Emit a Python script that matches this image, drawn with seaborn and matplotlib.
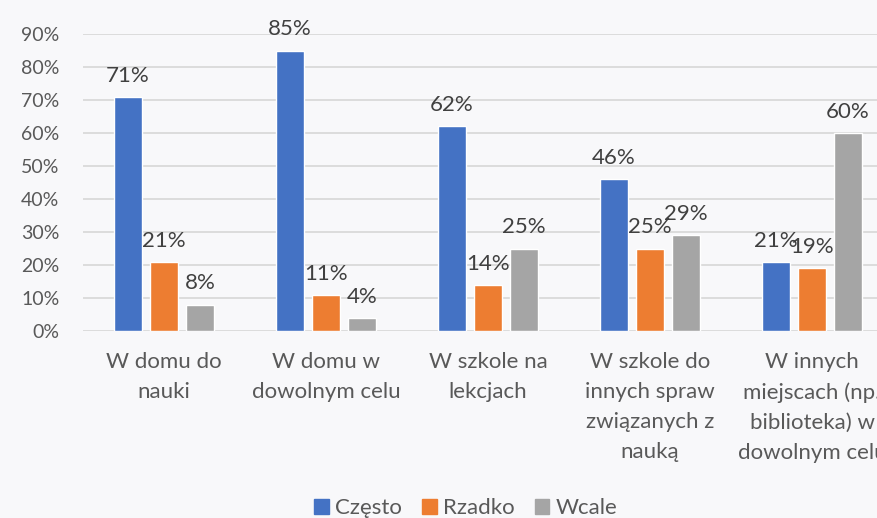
import pandas as pd
import matplotlib.pyplot as plt
import seaborn as sns
from matplotlib.ticker import PercentFormatter
from matplotlib.patches import Patch

categories = ['W domu do\nnauki', 'W domu w\ndowolnym celu', 'W szkole na\nlekcjach',
              'W szkole do\ninnych spraw\nzwiązanych z\nnauką',
              'W innych\nmiejscach (np.\nbiblioteka) w\ndowolnym celu']
series = ['Często', 'Rzadko', 'Wcale']
czesto = [71, 85, 62, 46, 21]
rzadko = [21, 11, 14, 25, 19]
wcale = [8, 4, 25, 29, 60]
colors = ['#4472c4', '#ed7d31', '#a5a5a5']

df = pd.DataFrame({
    'kategoria': categories * 3,
    'seria': [s for s in series for _ in categories],
    'wartosc': czesto + rzadko + wcale,
})

sns.set_style('white')
plt.rcParams['font.family'] = ['Lato', 'DejaVu Sans']

fig = plt.figure(figsize=(8.77, 5.18), dpi=100, facecolor='#f8f8fa')
ax = fig.add_axes([83 / 877, 187 / 518, 810 / 877, 297 / 518])
ax.set_facecolor('#f8f8fa')

sns.barplot(data=df, x='kategoria', y='wartosc', hue='seria', palette=colors,
            width=0.667, gap=0.22, ax=ax, legend=False, saturation=1)

# etykiety nad słupkami
for c in ax.containers:
    ax.bar_label(c, fmt='%d%%', padding=8, fontsize=16, color='#404040')

ax.set_ylim(0, 90)
ax.set_xlim(-0.5, 4.5)
ax.set_yticks(range(0, 91, 10))
ax.yaxis.set_major_formatter(PercentFormatter(decimals=0))
ax.grid(axis='y', color='#d9d9d9', linewidth=1.3)
ax.set_axisbelow(True)
for s in ax.spines.values():
    s.set_visible(False)
ax.tick_params(axis='y', length=0, pad=17, labelsize=14, labelcolor='#595959')
ax.tick_params(axis='x', length=0, pad=15, labelsize=16, labelcolor='#595959')
for t in ax.get_xticklabels():
    t.set_linespacing(1.62)
ax.set_xlabel('')
ax.set_ylabel('')

handles = [Patch(color=c, label=s) for c, s in zip(colors, series)]
fig.legend(handles=handles, loc='center', bbox_to_anchor=(466 / 877, 1 - 508 / 518),
           ncol=3, frameon=False, fontsize=16, labelcolor='#595959',
           handlelength=0.65, handleheight=0.65, columnspacing=0.9, handletextpad=0.3)

fig.savefig('out.png', dpi=100, facecolor=fig.get_facecolor())
